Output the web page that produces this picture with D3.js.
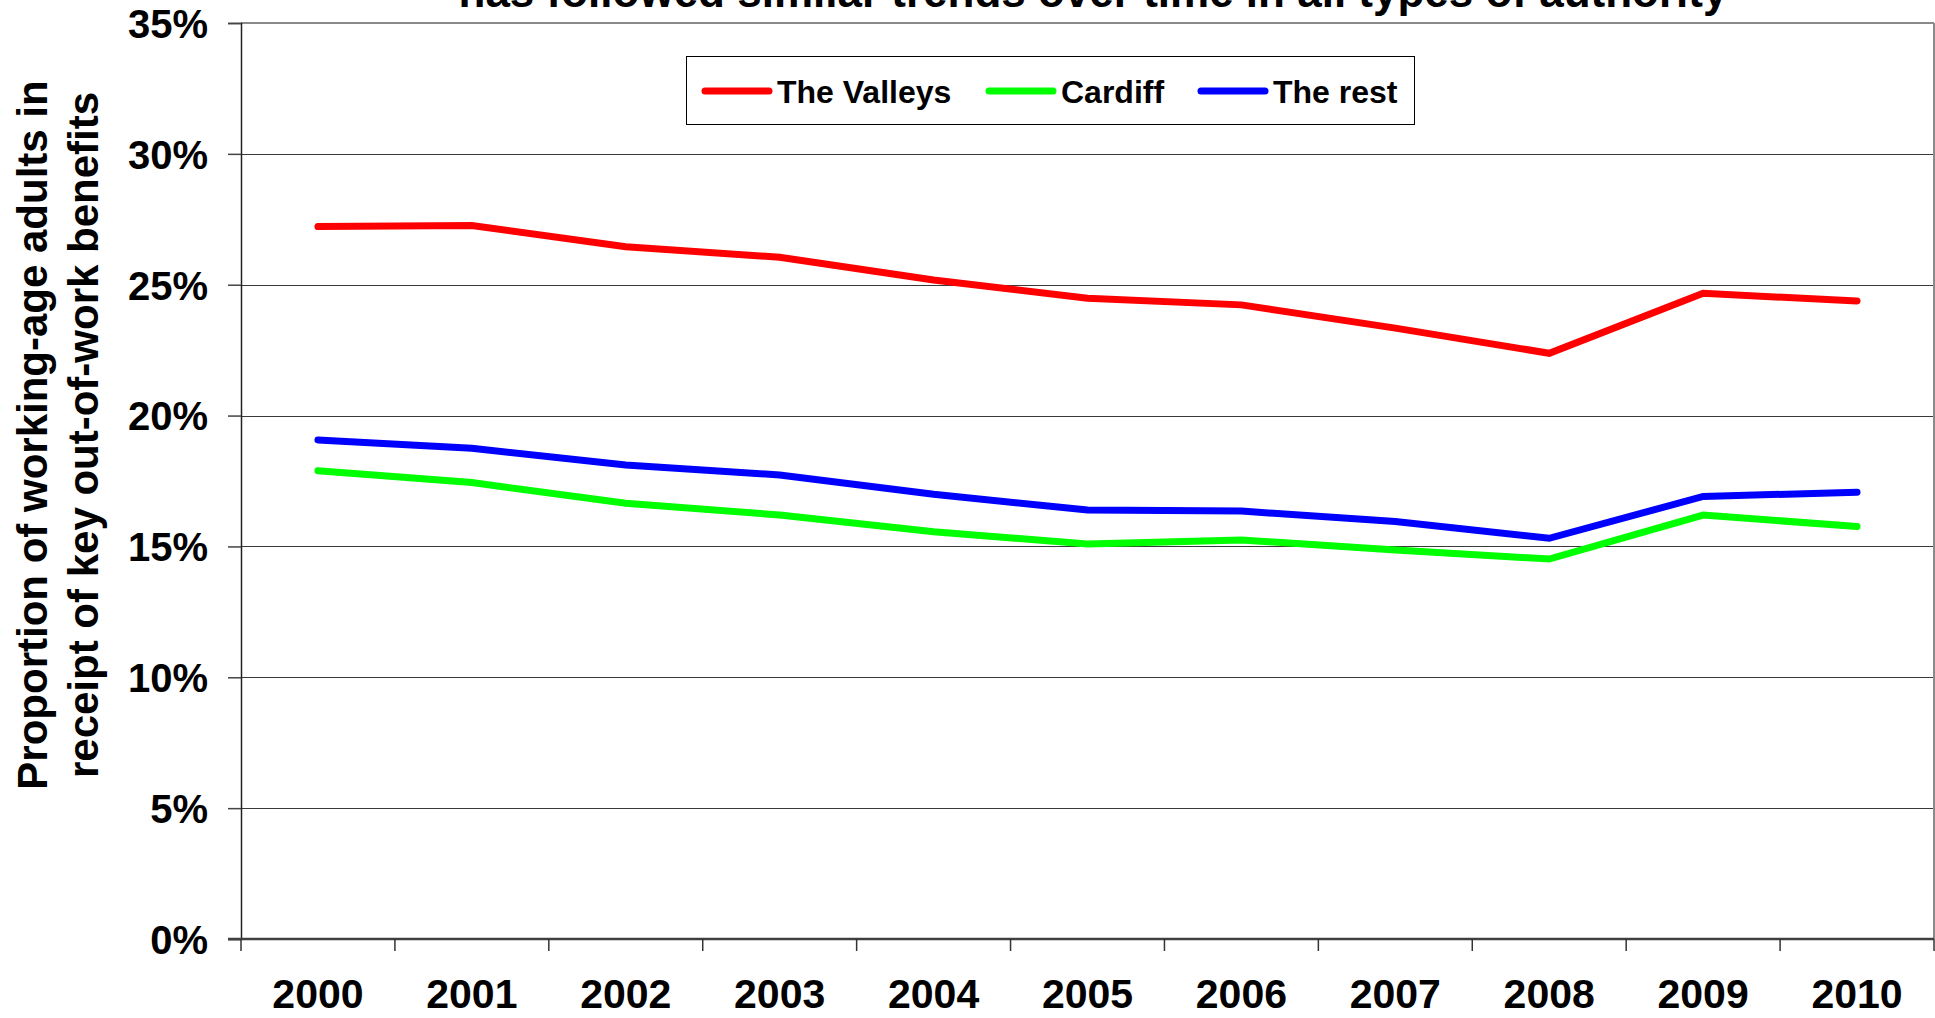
<!DOCTYPE html>
<html>
<head>
<meta charset="utf-8">
<script src="https://cdn.jsdelivr.net/npm/d3@7"></script>
<style>
  html, body { margin: 0; padding: 0; background: #fff; overflow: hidden; }
  svg { display: block; }
  text { font-family: "Liberation Sans", Arial, sans-serif; font-weight: bold; fill: #000; }
</style>
</head>
<body>
<script>
// ---- data ----
const years = ["2000","2001","2002","2003","2004","2005","2006","2007","2008","2009","2010"];
const valleys = [27.22, 27.26, 26.45, 26.05, 25.18, 24.48, 24.23, 23.34, 22.38, 24.67, 24.38];
const cardiff = [17.89, 17.44, 16.65, 16.20, 15.56, 15.09, 15.25, 14.86, 14.52, 16.20, 15.76];
const theRest = [19.07, 18.75, 18.11, 17.73, 16.99, 16.39, 16.35, 15.95, 15.31, 16.91, 17.07];
const seriesNames = ["The Valleys", "Cardiff", "The rest"];
const seriesColors = ["#ff0000", "#00ff00", "#0000ff"];
const yTicks = [0, 5, 10, 15, 20, 25, 30, 35];
const titleText = "has followed similar trends over time in all types of authority";
const yTitleLines = ["Proportion of working-age adults in", "receipt of key out-of-work benefits"];

const W = 1935, H = 1018;
const plot = { left: 241, right: 1934, top: 23, bottom: 939 };

const svg = d3.select("body").append("svg").attr("width", W).attr("height", H);

const x = d3.scaleBand().domain(years).range([plot.left, plot.right]).padding(0);
const y = d3.scaleLinear().domain([0, 35]).range([plot.bottom, plot.top]);

// gridlines
svg.append("g").selectAll("line").data(yTicks.filter(d => d > 0 && d < 35)).join("line")
  .attr("x1", plot.left).attr("x2", plot.right)
  .attr("y1", d => Math.round(y(d)) + 0.5).attr("y2", d => Math.round(y(d)) + 0.5)
  .attr("stroke", "#3a3a3a").attr("stroke-width", 1.2);

// plot border top / right
svg.append("line").attr("x1", plot.left).attr("x2", plot.right)
  .attr("y1", y(35)).attr("y2", y(35)).attr("stroke", "#8a8a8a").attr("stroke-width", 2);
svg.append("line").attr("x1", plot.right).attr("x2", plot.right)
  .attr("y1", y(35)).attr("y2", y(0)).attr("stroke", "#8a8a8a").attr("stroke-width", 2);

// y axis
const yAxis = d3.axisLeft(y).tickValues(yTicks).tickSize(13).tickPadding(20)
  .tickFormat(d => d + "%");
const gy = svg.append("g").attr("transform", `translate(${plot.left},0)`).call(yAxis);
gy.select(".domain").attr("stroke", "#222").attr("stroke-width", 1.5);
gy.selectAll(".tick line").attr("stroke", "#444").attr("stroke-width", 1.5);
gy.selectAll(".tick text").attr("font-size", 40).attr("font-family", "Liberation Sans, Arial, sans-serif")
  .attr("font-weight", "bold").attr("fill", "#000").attr("dy", "0.36em");

// x axis (ticks between categories)
const boundaries = years.map(d => x(d)).concat([plot.right]);
svg.append("line").attr("x1", plot.left - 13).attr("x2", plot.right)
  .attr("y1", y(0)).attr("y2", y(0)).attr("stroke", "#404040").attr("stroke-width", 2.5);
svg.append("g").selectAll("line").data(boundaries).join("line")
  .attr("x1", d => d).attr("x2", d => d)
  .attr("y1", y(0)).attr("y2", y(0) + 12)
  .attr("stroke", "#333").attr("stroke-width", 1.5);
svg.append("g").selectAll("text").data(years).join("text")
  .attr("x", d => x(d) + x.bandwidth() / 2)
  .attr("y", 1008)
  .attr("text-anchor", "middle")
  .attr("font-size", 41)
  .text(d => d);

// lines
const allSeries = [valleys, cardiff, theRest];
const line = d3.line().x((d, i) => x(years[i]) + x.bandwidth() / 2).y(d => y(d));
allSeries.forEach((s, k) => {
  svg.append("path").datum(s).attr("d", line)
    .attr("fill", "none").attr("stroke", seriesColors[k]).attr("stroke-width", 7)
    .attr("stroke-linecap", "round").attr("stroke-linejoin", "miter");
});

// legend
const lg = svg.append("g");
lg.append("rect").attr("x", 686.5).attr("y", 56.5).attr("width", 728).attr("height", 68)
  .attr("fill", "#fff").attr("stroke", "#000").attr("stroke-width", 1);
const legendX = [705, 989, 1201];
seriesNames.forEach((n, k) => {
  lg.append("line").attr("x1", legendX[k]).attr("x2", legendX[k] + 64)
    .attr("y1", 91).attr("y2", 91)
    .attr("stroke", seriesColors[k]).attr("stroke-width", 7).attr("stroke-linecap", "round");
  lg.append("text").attr("x", legendX[k] + 72).attr("y", 102.5)
    .attr("font-size", 32).text(n);
});

// title (partially cut off at top, as in the reference)
svg.append("text").attr("x", 1093).attr("y", 7).attr("text-anchor", "middle")
  .attr("font-size", 44).text(titleText);

// y axis title
const yt = svg.append("g");
yt.append("text").attr("transform", "translate(47,435) rotate(-90)")
  .attr("text-anchor", "middle").attr("font-size", 42).text(yTitleLines[0]);
yt.append("text").attr("transform", "translate(98,435) rotate(-90)")
  .attr("text-anchor", "middle").attr("font-size", 42).text(yTitleLines[1]);
</script>
</body>
</html>
